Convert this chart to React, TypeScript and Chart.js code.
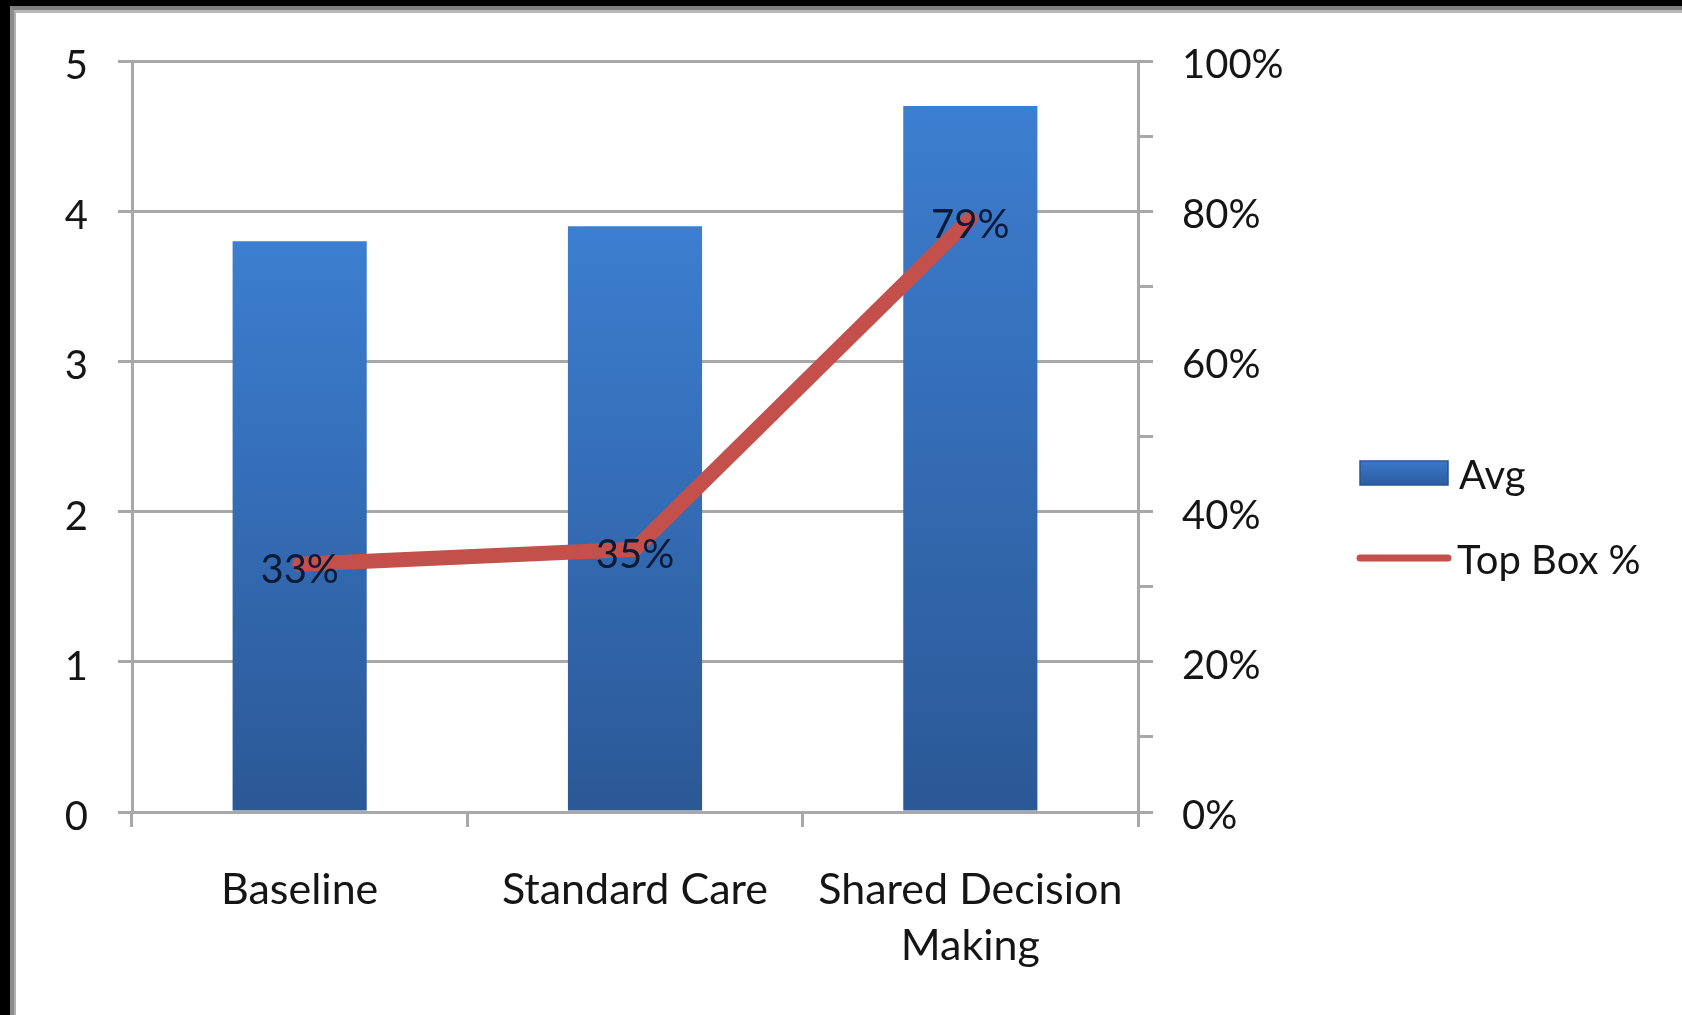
import React, { useEffect, useRef } from "react";
import { Chart, registerables } from "chart.js";

Chart.register(...registerables);

const categories: (string | string[])[] = ["Baseline", "Standard Care", ["Shared Decision", "Making"]];
const avgValues = [3.8, 3.9, 4.7];
const topBoxValues = [33, 35, 79];
const seriesNames = ["Avg", "Top Box %"];

const FONT = "Lato";
const GRID = "#a8a8a8";
const TEXT = "#151515";
const RED = "#c4504b";

const labelPlugin = {
  id: "pointLabels",
  afterDatasetsDraw(chart: any) {
    const meta = chart.getDatasetMeta(1);
    const ctx = chart.ctx;
    ctx.save();
    ctx.font = `40px ${FONT}`;
    ctx.fillStyle = "#0b1a36";
    ctx.textAlign = "center";
    ctx.textBaseline = "middle";
    meta.data.forEach((pt: any, i: number) => {
      ctx.fillText(`${topBoxValues[i]}%`, pt.x, pt.y + 6);
    });
    ctx.restore();
  },
};

const legendPlugin = {
  id: "sideLegend",
  afterDraw(chart: any) {
    const ctx = chart.ctx;
    ctx.save();
    const g = ctx.createLinearGradient(0, 448, 0, 472);
    g.addColorStop(0, "#3a78c8");
    g.addColorStop(1, "#2c5da0");
    ctx.fillStyle = g;
    ctx.fillRect(1344, 448, 88, 24);
    ctx.strokeStyle = "#2a5590";
    ctx.lineWidth = 1.5;
    ctx.strokeRect(1344, 448, 88, 24);
    ctx.font = `40px ${FONT}`;
    ctx.fillStyle = TEXT;
    ctx.textAlign = "left";
    ctx.textBaseline = "alphabetic";
    ctx.fillText(seriesNames[0], 1443, 476);
    ctx.strokeStyle = RED;
    ctx.lineWidth = 7;
    ctx.lineCap = "round";
    ctx.beginPath();
    ctx.moveTo(1344, 545);
    ctx.lineTo(1432, 545);
    ctx.stroke();
    ctx.fillText(seriesNames[1], 1441, 561);
    ctx.restore();
  },
};

export default function App() {
  const ref = useRef<HTMLCanvasElement | null>(null);

  useEffect(() => {
    if (!ref.current) return;
    const chart = new Chart(ref.current, {
      type: "bar",
      data: {
        labels: categories as any,
        datasets: [
          {
            type: "bar",
            label: seriesNames[0],
            data: avgValues,
            yAxisID: "y",
            order: 1,
            barPercentage: 0.4,
            categoryPercentage: 1,
            borderWidth: 0,
            backgroundColor: (c: any) => {
              const chartObj = c.chart;
              const ca = chartObj.chartArea;
              if (!ca || c.raw == null) return "#3570bd";
              const top = chartObj.scales.y.getPixelForValue(c.raw);
              const grad = chartObj.ctx.createLinearGradient(0, top, 0, ca.bottom);
              grad.addColorStop(0, "#3c7ed0");
              grad.addColorStop(1, "#2b5896");
              return grad;
            },
          } as any,
          {
            type: "line",
            label: seriesNames[1],
            data: topBoxValues,
            yAxisID: "y2",
            order: 0,
            borderColor: RED,
            borderWidth: 15,
            pointRadius: 0,
            tension: 0,
            borderCapStyle: "round",
            borderJoinStyle: "round",
          } as any,
        ],
      },
      options: {
        responsive: false,
        animation: false,
        layout: { padding: { left: 0, top: 48, right: 364, bottom: 3 } },
        plugins: {
          legend: { display: false },
          tooltip: { enabled: false },
        },
        scales: {
          x: {
            afterFit: (s: any) => {
              s.height = 200;
              s.paddingLeft = 0;
              s.paddingRight = 0;
            },
            grid: {
              offset: true,
              drawOnChartArea: false,
              color: GRID,
              lineWidth: 3,
              tickLength: 15,
            },
            border: { color: GRID, width: 3 },
            ticks: {
              color: TEXT,
              font: { family: FONT, size: 43, lineHeight: 1.3 },
              padding: 35,
              maxRotation: 0,
              autoSkip: false,
            },
          },
          y: {
            position: "left",
            min: 0,
            max: 5,
            afterFit: (s: any) => {
              s.width = 116;
              s.paddingTop = 0;
              s.paddingBottom = 0;
            },
            grid: { color: GRID, lineWidth: 3, tickLength: 14 },
            border: { color: GRID, width: 3 },
            ticks: {
              stepSize: 1,
              color: TEXT,
              font: { family: FONT, size: 40 },
              padding: 30,
              labelOffset: 5,
            },
          },
          y2: {
            position: "right",
            min: 0,
            max: 100,
            afterFit: (s: any) => {
              s.width = 180;
              s.paddingTop = 0;
              s.paddingBottom = 0;
            },
            grid: { drawOnChartArea: false, color: GRID, lineWidth: 3, tickLength: 15 },
            border: { color: GRID, width: 3 },
            ticks: {
              stepSize: 10,
              autoSkip: false,
              color: TEXT,
              font: { family: FONT, size: 40 },
              padding: 29,
              labelOffset: 4,
              callback: (v: any) => (Math.round(Number(v)) % 20 === 0 ? `${Math.round(Number(v))}%` : ""),
            },
          },
        },
      },
      plugins: [labelPlugin, legendPlugin],
    });
    return () => chart.destroy();
  }, []);

  return (
    <div
      style={{
        position: "fixed",
        left: 0,
        top: 0,
        width: 1682,
        height: 1015,
        boxSizing: "border-box",
        background: "#fff",
        borderTop: "6px solid #000",
        borderLeft: "10px solid #000",
      }}
    >
      <div style={{ boxSizing: "border-box", height: "100%", borderTop: "4px solid #7f7f7f", borderLeft: "4px solid #8c8c8c" }}>
        <div style={{ boxSizing: "border-box", height: "100%", borderTop: "3px solid #b8b8b8", borderLeft: "2px solid #b0b0b0" }}>
          <canvas ref={ref} width={1666} height={1002} style={{ display: "block" }} />
        </div>
      </div>
    </div>
  );
}
